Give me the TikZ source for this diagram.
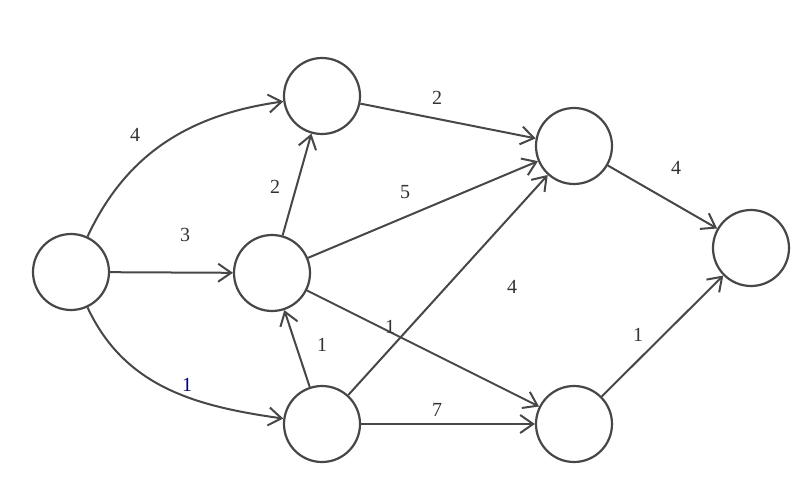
\documentclass[tikz,border=0pt]{standalone}
\usepackage{fontspec}
\setmainfont{Liberation Serif}
\usepackage{tikz}
\usetikzlibrary{arrows.meta}

\begin{document}
\begin{tikzpicture}[
  x=1pt, y=1pt,
  font=\fontsize{20}{22}\selectfont,
  ev/.style  = {draw=black!72, circle, line width=2.2pt, fill=white,
                minimum size=76pt, inner sep=0pt},
  act/.style = {draw=black!72, line width=2pt,
                -{Straight Barb[length=13pt, width=18pt, line width=2pt]}},
  wt/.style  = {text=black!80, inner sep=1pt}
]
\useasboundingbox (0,0) rectangle (810,488);

% ---------- events ---------------------------------------------------------
\node[ev] (a) at (71,216) {};
\node[ev] (b) at (322,392) {};
\node[ev] (c) at (272,215) {};
\node[ev] (d) at (322,64) {};
\node[ev] (e) at (574,342) {};
\node[ev] (f) at (574,64) {};
\node[ev] (g) at (751,240) {};

% ---------- activities -----------------------------------------------------
\draw[act] (a) to[out=65, in=188] (b);
\draw[act] (a) -- (c);
\draw[act] (a) to[out=-65, in=172] (d);
\draw[act] (c) -- (b);
\draw[act] (b) -- (e);
\draw[act] (c) -- (e);
\draw[act] (c) -- (f);
\draw[act] (d) -- (c);
\draw[act] (d) -- (e);
\draw[act] (d) -- (f);
\draw[act] (e) -- (g);
\draw[act] (f) -- (g);

% ---------- durations ------------------------------------------------------
\node[wt] (wab) at (135,353) {4};
\node[wt] (wac) at (185,253) {3};
\node[wt, text=blue!45!black] (wad) at (187,103) {1};
\node[wt] (wcb) at (275,301) {2};
\node[wt] (wbe) at (437,390) {2};
\node[wt] (wce) at (405,296) {5};
\node[wt] (wcf) at (390,161) {1};
\node[wt] (wdc) at (322,143) {1};
\node[wt] (wde) at (512,201) {4};
\node[wt] (wdf) at (437,78) {7};
\node[wt] (weg) at (676,320) {4};
\node[wt] (wfg) at (638,153) {1};

\end{tikzpicture}
\end{document}
